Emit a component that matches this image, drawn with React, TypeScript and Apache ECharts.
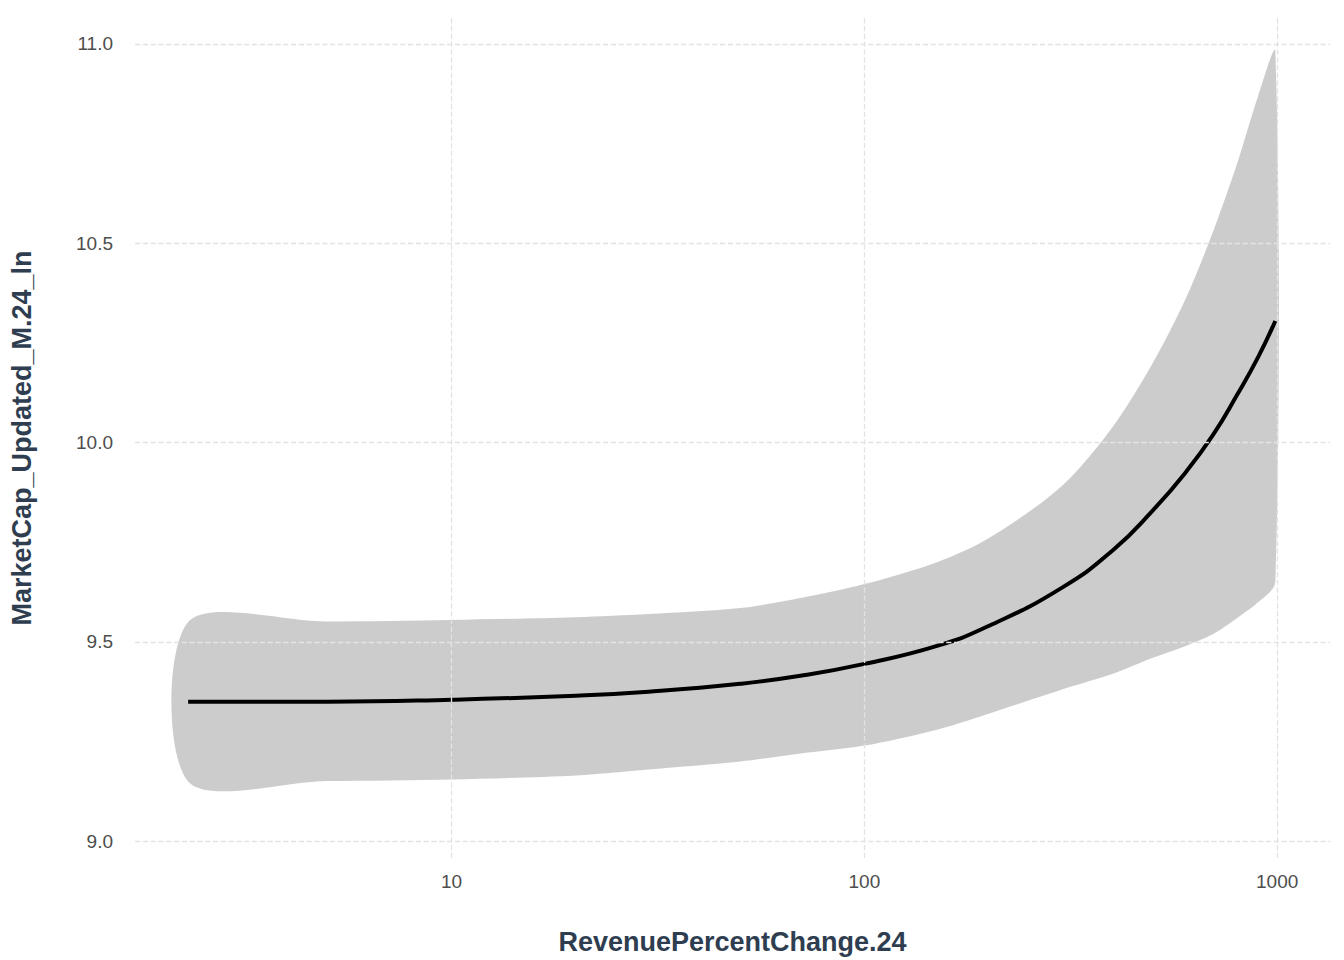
import React, { useEffect, useRef } from "react";
import * as echarts from "echarts";

// x positions sampled along the fitted curve
const xs = [2.3, 5, 10, 20, 30, 50, 70, 100, 150, 200, 300, 400, 500, 600, 700, 800, 900, 990];
const fit = [9.35, 9.35, 9.355, 9.365, 9.375, 9.395, 9.415, 9.445, 9.49, 9.54, 9.635, 9.73, 9.83, 9.925, 10.02, 10.12, 10.215, 10.305];
const upper = [9.55, 9.551, 9.555, 9.562, 9.57, 9.585, 9.61, 9.645, 9.7, 9.76, 9.89, 10.04, 10.2, 10.36, 10.53, 10.7, 10.87, 10.98];
const lower = [9.15, 9.151, 9.155, 9.165, 9.18, 9.2, 9.22, 9.24, 9.28, 9.32, 9.38, 9.42, 9.46, 9.49, 9.52, 9.56, 9.6, 9.65];
const yTicks = [9.0, 9.5, 10.0, 10.5, 11.0];
const xTicks = [10, 100, 1000];

const gridLine = { type: "dashed", color: "#e3e3e3", width: 1.3 };
const tickFont = { color: "#4d4d4d", fontSize: 19, fontFamily: "Liberation Sans" };

const App: React.FC = () => {
  const chartRef = useRef<HTMLDivElement>(null);

  useEffect(() => {
    document.body.style.margin = "0";
    if (!chartRef.current) return;
    const chart = echarts.init(chartRef.current, undefined, { renderer: "svg" });

    chart.setOption({
      animation: false,
      backgroundColor: "#fff",
      grid: { left: 128, right: 14, top: 18, bottom: 100 },
      xAxis: {
        type: "log",
        logBase: 10,
        min: 1.71,
        max: 1343,
        axisLine: { show: false },
        axisTick: { show: false },
        axisLabel: { show: false },
        splitLine: { show: false },
        name: "RevenuePercentChange.24",
        nameLocation: "middle",
        nameGap: 70,
        nameTextStyle: { color: "#2e3e50", fontSize: 27, fontWeight: "bold", fontFamily: "Liberation Sans" },
      },
      yAxis: {
        type: "value",
        min: 8.958,
        max: 11.065,
        axisLine: { show: false },
        axisTick: { show: false },
        axisLabel: { show: false },
        splitLine: { show: false },
        name: "MarketCap_Updated_M.24_ln",
        nameLocation: "middle",
        nameGap: 100,
        nameTextStyle: { color: "#2e3e50", fontSize: 27, fontWeight: "bold", fontFamily: "Liberation Sans" },
      },
      series: [
        {
          type: "custom",
          z: 1,
          data: [[xs[0], lower[0]]],
          renderItem: (params: any, api: any) => {
            if (params.dataIndex !== 0) return null;
            const top = xs.map((x, i) => api.coord([x, upper[i]]));
            const bot = xs.map((x, i) => api.coord([x, lower[i]])).reverse();
            return {
              type: "polygon",
              shape: { points: top.concat(bot), smooth: 0.3 },
              style: { fill: "rgba(153,153,153,0.5)" },
            };
          },
        },
        {
          type: "line",
          z: 2,
          data: xs.map((x, i) => [x, fit[i]]),
          smooth: true,
          symbol: "none",
          lineStyle: { color: "#000", width: 4 },
          markLine: {
            silent: true,
            symbol: "none",
            lineStyle: gridLine,
            data: [
              ...yTicks.map((v) => ({
                yAxis: v,
                name: v.toFixed(1),
                label: { show: true, position: "start", formatter: "{b}", distance: 22, ...tickFont },
              })),
              ...xTicks.map((v) => ({
                xAxis: v,
                name: String(v),
                label: { show: true, position: "start", formatter: "{b}", distance: 14, ...tickFont },
              })),
            ],
          },
        },
      ],
    });

    return () => {
      chart.dispose();
    };
  }, []);

  return <div ref={chartRef} style={{ width: 1344, height: 960 }} />;
};

export default App;
